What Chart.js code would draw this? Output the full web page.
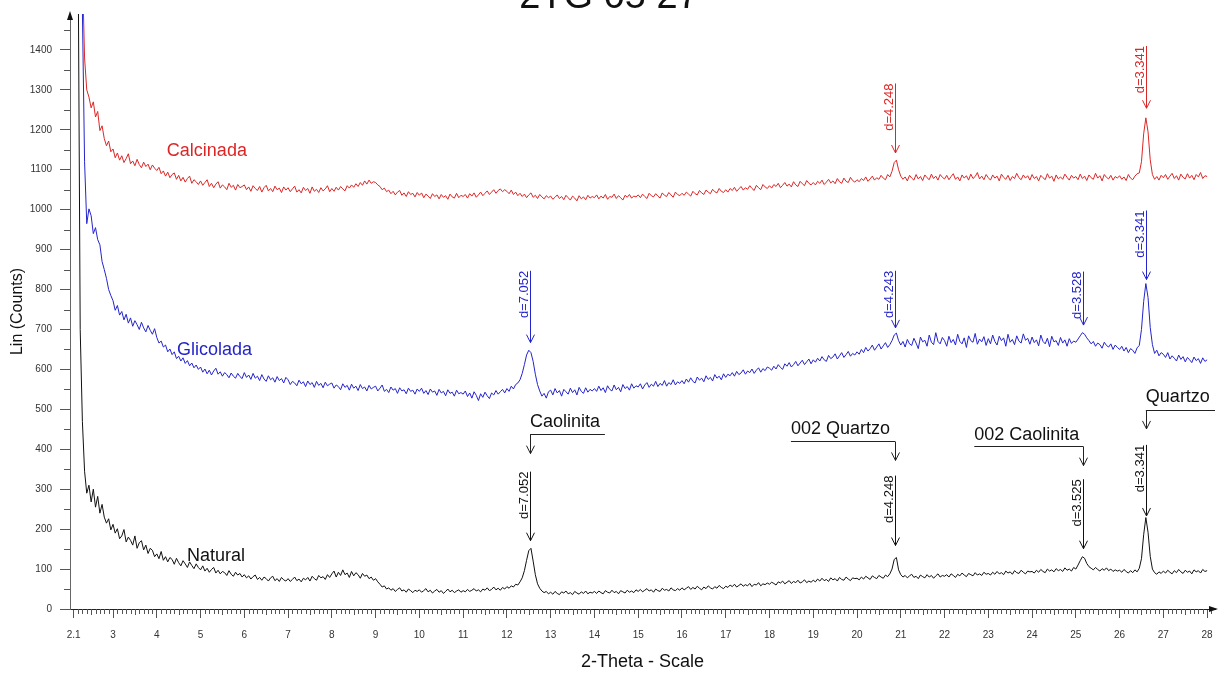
<!DOCTYPE html>
<html>
<head>
<meta charset="utf-8">
<script src="https://cdn.jsdelivr.net/npm/chart.js@4.4.1/dist/chart.umd.min.js"></script>
<style>
html, body { margin: 0; padding: 0; background: #fff; }
</style>
</head>
<body>
<canvas id="canvas" width="1227" height="675"></canvas>
<script>
let canvas = document.getElementById("canvas").getContext("2d")

const chartTitle = "2TG 05 27"

// 2-theta scan positions (degrees)
const theta = [
    2.20, 2.25, 2.30, 2.35, 2.40, 2.45, 2.50, 2.55, 2.60, 2.65, 2.70, 2.75, 2.80, 2.85, 2.90, 2.95,
    3.00, 3.05, 3.10, 3.15, 3.20, 3.25, 3.30, 3.35, 3.40, 3.45, 3.50, 3.55, 3.60, 3.65, 3.70, 3.75, 3.80, 3.85, 3.90, 3.95,
    4.00, 4.05, 4.10, 4.15, 4.20, 4.25, 4.30, 4.35, 4.40, 4.45, 4.50, 4.55, 4.60, 4.65, 4.70, 4.75, 4.80, 4.85, 4.90, 4.95,
    5.00, 5.05, 5.10, 5.15, 5.20, 5.25, 5.30, 5.35, 5.40, 5.45, 5.50, 5.55, 5.60, 5.65, 5.70, 5.75, 5.80, 5.85, 5.90, 5.95,
    6.00, 6.05, 6.10, 6.15, 6.20, 6.25, 6.30, 6.35, 6.40, 6.45, 6.50, 6.55, 6.60, 6.65, 6.70, 6.75, 6.80, 6.85, 6.90, 6.95,
    7.00, 7.05, 7.10, 7.15, 7.20, 7.25, 7.30, 7.35, 7.40, 7.45, 7.50, 7.55, 7.60, 7.65, 7.70, 7.75, 7.80, 7.85, 7.90, 7.95,
    8.00, 8.05, 8.10, 8.15, 8.20, 8.25, 8.30, 8.35, 8.40, 8.45, 8.50, 8.55, 8.60, 8.65, 8.70, 8.75, 8.80, 8.85, 8.90, 8.95,
    9.00, 9.05, 9.10, 9.15, 9.20, 9.25, 9.30, 9.35, 9.40, 9.45, 9.50, 9.55, 9.60, 9.65, 9.70, 9.75, 9.80, 9.85, 9.90, 9.95,
    10.00, 10.05, 10.10, 10.15, 10.20, 10.25, 10.30, 10.35, 10.40, 10.45, 10.50, 10.55, 10.60, 10.65, 10.70, 10.75, 10.80, 10.85, 10.90, 10.95,
    11.00, 11.05, 11.10, 11.15, 11.20, 11.25, 11.30, 11.35, 11.40, 11.45, 11.50, 11.55, 11.60, 11.65, 11.70, 11.75, 11.80, 11.85, 11.90, 11.95,
    12.00, 12.05, 12.10, 12.15, 12.20, 12.25, 12.30, 12.35, 12.40, 12.45, 12.50, 12.55, 12.60, 12.65, 12.70, 12.75, 12.80, 12.85, 12.90, 12.95,
    13.00, 13.05, 13.10, 13.15, 13.20, 13.25, 13.30, 13.35, 13.40, 13.45, 13.50, 13.55, 13.60, 13.65, 13.70, 13.75, 13.80, 13.85, 13.90, 13.95,
    14.00, 14.05, 14.10, 14.15, 14.20, 14.25, 14.30, 14.35, 14.40, 14.45, 14.50, 14.55, 14.60, 14.65, 14.70, 14.75, 14.80, 14.85, 14.90, 14.95,
    15.00, 15.05, 15.10, 15.15, 15.20, 15.25, 15.30, 15.35, 15.40, 15.45, 15.50, 15.55, 15.60, 15.65, 15.70, 15.75, 15.80, 15.85, 15.90, 15.95,
    16.00, 16.05, 16.10, 16.15, 16.20, 16.25, 16.30, 16.35, 16.40, 16.45, 16.50, 16.55, 16.60, 16.65, 16.70, 16.75, 16.80, 16.85, 16.90, 16.95,
    17.00, 17.05, 17.10, 17.15, 17.20, 17.25, 17.30, 17.35, 17.40, 17.45, 17.50, 17.55, 17.60, 17.65, 17.70, 17.75, 17.80, 17.85, 17.90, 17.95,
    18.00, 18.05, 18.10, 18.15, 18.20, 18.25, 18.30, 18.35, 18.40, 18.45, 18.50, 18.55, 18.60, 18.65, 18.70, 18.75, 18.80, 18.85, 18.90, 18.95,
    19.00, 19.05, 19.10, 19.15, 19.20, 19.25, 19.30, 19.35, 19.40, 19.45, 19.50, 19.55, 19.60, 19.65, 19.70, 19.75, 19.80, 19.85, 19.90, 19.95,
    20.00, 20.05, 20.10, 20.15, 20.20, 20.25, 20.30, 20.35, 20.40, 20.45, 20.50, 20.55, 20.60, 20.65, 20.70, 20.75, 20.80, 20.85, 20.90, 20.95,
    21.00, 21.05, 21.10, 21.15, 21.20, 21.25, 21.30, 21.35, 21.40, 21.45, 21.50, 21.55, 21.60, 21.65, 21.70, 21.75, 21.80, 21.85, 21.90, 21.95,
    22.00, 22.05, 22.10, 22.15, 22.20, 22.25, 22.30, 22.35, 22.40, 22.45, 22.50, 22.55, 22.60, 22.65, 22.70, 22.75, 22.80, 22.85, 22.90, 22.95,
    23.00, 23.05, 23.10, 23.15, 23.20, 23.25, 23.30, 23.35, 23.40, 23.45, 23.50, 23.55, 23.60, 23.65, 23.70, 23.75, 23.80, 23.85, 23.90, 23.95,
    24.00, 24.05, 24.10, 24.15, 24.20, 24.25, 24.30, 24.35, 24.40, 24.45, 24.50, 24.55, 24.60, 24.65, 24.70, 24.75, 24.80, 24.85, 24.90, 24.95,
    25.00, 25.05, 25.10, 25.15, 25.20, 25.25, 25.30, 25.35, 25.40, 25.45, 25.50, 25.55, 25.60, 25.65, 25.70, 25.75, 25.80, 25.85, 25.90, 25.95,
    26.00, 26.05, 26.10, 26.15, 26.20, 26.25, 26.30, 26.35, 26.40, 26.45, 26.50, 26.55, 26.60, 26.65, 26.70, 26.75, 26.80, 26.85, 26.90, 26.95,
    27.00, 27.05, 27.10, 27.15, 27.20, 27.25, 27.30, 27.35, 27.40, 27.45, 27.50, 27.55, 27.60, 27.65, 27.70, 27.75, 27.80, 27.85, 27.90, 27.95,
    28.00
]

const calcinada = [
    3000, 2300, 1600, 1380, 1300, 1282, 1255, 1270, 1232, 1246, 1198, 1210, 1178, 1160, 1172, 1145,
    1152, 1130, 1142, 1124, 1135, 1118, 1128, 1140, 1115, 1122, 1110, 1126, 1113, 1105, 1119, 1108, 1114, 1100, 1112, 1104,
    1098, 1106, 1090, 1097, 1084, 1094, 1080, 1088, 1092, 1076, 1086, 1072, 1081, 1069, 1078, 1084, 1066, 1075, 1070, 1063,
    1072, 1061, 1068, 1075, 1058, 1066, 1055, 1064, 1070, 1054, 1062, 1057, 1050, 1066, 1056, 1061, 1049, 1063, 1055, 1058,
    1062, 1050, 1057, 1046, 1060, 1053, 1048, 1058, 1044, 1055, 1061, 1047, 1053, 1045, 1059, 1050, 1054, 1043, 1057, 1049,
    1055, 1045, 1052, 1059, 1044, 1050, 1042, 1056, 1048, 1053, 1041, 1057, 1046, 1051, 1043, 1055, 1047, 1052, 1060, 1045,
    1053, 1046, 1056, 1049, 1058, 1052, 1047, 1060, 1054, 1062, 1056, 1065, 1058, 1068, 1061, 1072, 1064, 1074, 1066, 1070,
    1068, 1062, 1058, 1050, 1054, 1045, 1049, 1040, 1046, 1037, 1044, 1048, 1036, 1042, 1033, 1045, 1038, 1041, 1032, 1043,
    1036, 1042, 1030, 1039, 1034, 1028, 1040, 1033, 1037, 1027, 1038, 1031, 1035, 1026, 1039, 1032, 1029, 1041, 1030, 1036,
    1033, 1038, 1029, 1040, 1034, 1042, 1031, 1037, 1044, 1035, 1041, 1047, 1038, 1044, 1050, 1041, 1048, 1052, 1045, 1050,
    1046, 1040, 1049, 1038, 1044, 1035, 1041, 1033, 1039, 1030, 1037, 1042, 1031, 1036, 1028, 1038, 1032, 1027, 1035, 1030,
    1034, 1026, 1031, 1037, 1028, 1033, 1025, 1036, 1030, 1024, 1034, 1029, 1022, 1035, 1027, 1032, 1025, 1036, 1029, 1033,
    1030, 1037, 1027, 1034, 1029, 1038, 1026, 1033, 1031, 1039, 1028, 1035, 1030, 1024, 1036, 1031, 1038, 1029, 1034, 1032,
    1037, 1030, 1039, 1033, 1028, 1041, 1035, 1032, 1040, 1034, 1029, 1042, 1036, 1033, 1043, 1037, 1031, 1044, 1038, 1035,
    1041, 1036, 1044, 1039, 1034, 1046, 1040, 1037, 1048, 1042, 1038, 1049, 1044, 1040, 1051, 1045, 1042, 1053, 1046, 1043,
    1050, 1044, 1053, 1048, 1056, 1046, 1052, 1058, 1049, 1055, 1051, 1060, 1053, 1048, 1061, 1055, 1050, 1063, 1057, 1053,
    1060, 1054, 1063, 1058, 1066, 1055, 1061, 1068, 1059, 1064, 1057, 1070, 1062, 1058, 1071, 1065, 1060, 1073, 1066, 1062,
    1068, 1062, 1071, 1066, 1074, 1063, 1069, 1076, 1067, 1072, 1065, 1078, 1070, 1066, 1079, 1071, 1068, 1081, 1073, 1069,
    1075, 1070, 1078, 1073, 1082, 1071, 1077, 1084, 1074, 1080, 1076, 1086, 1079, 1075, 1088, 1082, 1096, 1118, 1124, 1100,
    1084, 1076, 1082, 1072, 1086, 1079, 1074, 1088, 1077, 1083, 1073, 1087, 1080, 1075, 1089, 1078, 1084, 1074, 1088, 1081,
    1077, 1086, 1075, 1083, 1090, 1076, 1082, 1072, 1087, 1079, 1085, 1074, 1089, 1078, 1083, 1093, 1077, 1084, 1075, 1088,
    1080, 1074, 1087, 1079, 1084, 1072, 1089, 1081, 1076, 1086, 1073, 1083, 1078, 1091, 1080, 1075, 1087, 1079, 1085, 1074,
    1088, 1078, 1083, 1072, 1086, 1080, 1075, 1090, 1079, 1084, 1071, 1087, 1077, 1082, 1076, 1089, 1081, 1074, 1086, 1079,
    1083, 1075, 1089, 1078, 1084, 1073, 1087, 1080, 1076, 1091, 1079, 1085, 1072, 1088, 1081, 1077, 1086, 1074, 1083, 1079,
    1085, 1076, 1082, 1073, 1088, 1079, 1075, 1084, 1090, 1092, 1120, 1190, 1230, 1195, 1125, 1088, 1076, 1083, 1074, 1086,
    1080, 1088, 1076, 1084, 1091, 1078, 1085, 1074, 1089, 1081, 1077, 1090, 1079, 1086, 1075, 1088, 1082, 1093, 1078, 1085,
    1083
]

const glicolada = [
    3000, 2200, 1500, 1120, 965, 1002, 985, 940, 955, 925, 912, 870, 850, 828, 800, 785,
    772, 748, 760, 736, 745, 724, 738, 716, 729, 708, 722, 712, 700, 718, 704, 694, 710, 698, 688, 702,
    680, 666, 671, 656, 661, 644, 651, 637, 644, 627, 633, 621, 629, 615, 622, 609, 616, 604, 611, 600,
    606, 593, 601, 589, 598, 586, 596, 603, 588, 594, 583, 592, 587, 579, 591, 583, 578, 590, 582, 577,
    592, 580, 586, 575, 590, 578, 583, 572, 587, 576, 570, 584, 574, 579, 568, 582, 572, 577, 566, 580,
    574, 562, 570, 566, 559, 573, 564, 569, 557, 571, 562, 567, 555, 570, 560, 565, 554, 568, 559, 563,
    566, 553, 561, 557, 549, 564, 555, 560, 548, 563, 553, 558, 547, 562, 552, 556, 546, 560, 551, 555,
    558, 546, 553, 561, 545, 550, 542, 556, 548, 552, 540, 554, 546, 549, 539, 553, 545, 548, 538, 551,
    545, 553, 540, 547, 537, 551, 543, 546, 535, 550, 541, 545, 534, 549, 540, 543, 533, 548, 539, 542,
    538, 546, 532, 541, 528, 544, 535, 522, 539, 530, 543, 534, 527, 541, 536, 547, 538, 544, 550, 541,
    552, 545, 558, 551, 562, 566, 574, 590, 612, 636, 648, 642, 620, 588, 562, 546, 533, 540, 528, 544,
    548, 536, 552, 541, 547, 533, 550, 544, 538, 553, 542, 549, 536, 555, 545, 540, 554, 543, 550, 546,
    552, 545, 558, 547, 554, 542, 559, 550, 546, 561, 549, 555, 544, 562, 552, 557, 548, 564, 553, 559,
    556, 564, 551, 561, 567, 555, 563, 558, 570, 557, 565, 560, 572, 558, 567, 562, 574, 561, 569, 565,
    572, 564, 576, 568, 579, 570, 566, 581, 573, 578, 569, 584, 575, 580, 571, 587, 578, 583, 574, 589,
    580, 588, 584, 592, 583, 595, 587, 591, 599, 588, 596, 592, 601, 590, 598, 604, 593, 602, 597, 606,
    603, 598, 608, 601, 612, 605, 600, 614, 608, 617, 606, 612, 620, 609, 616, 623, 612, 619, 626, 614,
    624, 618, 628, 621, 632, 624, 620, 635, 627, 631, 639, 626, 634, 642, 630, 637, 645, 633, 640, 636,
    644, 638, 650, 642, 655, 646, 652, 661, 648, 656, 664, 651, 659, 667, 655, 662, 672, 686, 691, 672,
    661, 670, 656, 675, 664, 660, 678, 666, 652, 681, 669, 673, 658, 686, 668, 662, 692, 670, 664, 680,
    672, 658, 683, 667, 675, 661, 688, 670, 664, 679, 655, 684, 672, 668, 690, 663, 676, 669, 682, 660,
    677, 664, 686, 670, 661, 683, 672, 679, 658, 688, 668, 675, 662, 684, 671, 666, 689, 673, 678, 663,
    681, 667, 674, 659, 686, 670, 664, 678, 657, 683, 669, 672, 660, 680, 666, 674, 658, 677, 665, 671,
    668, 676, 684, 692, 688, 679, 672, 664, 670, 658, 666, 662, 653, 668, 660, 656, 664, 650, 661, 655,
    650, 658, 646, 655, 642, 652, 648, 640, 654, 660, 700, 770, 815, 780, 705, 662, 640, 648, 634, 642,
    638, 630, 642, 626, 634, 628, 621, 636, 625, 632, 619, 630, 624, 617, 631, 622, 627, 615, 629, 620,
    624
]

const natural = [
    1700, 700, 470, 345, 290, 310, 268, 300, 255, 282, 240, 262, 230, 215, 226, 198,
    212, 190, 201, 176, 183, 199, 168, 180, 172, 160, 183, 152, 166, 171, 148, 160, 139, 152, 147, 131,
    138, 126, 144, 122, 131, 118, 129, 124, 112, 127, 116, 108, 121, 113, 104, 118, 109, 101, 113, 104,
    98, 108, 95, 102, 92, 99, 104, 90, 97, 88, 94, 91, 84, 96, 87, 82, 92, 85, 89, 80,
    86, 78, 83, 75, 81, 85, 74, 79, 72, 80, 76, 70, 78, 82, 71, 76, 69, 79, 73, 70,
    76, 69, 74, 80, 71, 75, 68, 77, 73, 79, 70, 82, 76, 72, 84, 78, 81, 74, 86, 79,
    88, 95, 80, 92, 84, 98, 86, 90, 79, 94, 83, 91, 86, 77, 89, 82, 85, 76, 80, 72,
    76, 68, 62, 55, 58, 50, 53, 47, 51, 44, 49, 53, 45, 48, 42, 50, 46, 41, 47, 44,
    48, 42, 46, 51, 43, 47, 40, 45, 49, 42, 46, 39, 44, 50, 43, 47, 41, 45, 48, 42,
    46, 43, 49, 44, 47, 51, 45, 48, 43, 50, 47, 53, 46, 49, 55, 48, 52, 47, 54, 50,
    56, 52, 58, 55, 62, 60, 68, 78, 96, 122, 146, 152, 120, 86, 63, 52, 45, 41, 44, 38,
    42, 37, 44, 39, 36, 43, 40, 45, 38, 41, 36, 44, 40, 37, 43, 39, 45, 38, 42, 40,
    44, 39, 45, 41, 38, 46, 42, 40, 47, 41, 44, 38, 46, 43, 40, 47, 42, 45, 41, 48,
    44, 49, 43, 47, 51, 45, 48, 42, 50, 46, 44, 52, 47, 49, 45, 53, 48, 46, 51, 47,
    53, 48, 52, 56, 49, 54, 50, 57, 52, 48, 55, 51, 58, 53, 50, 56, 52, 59, 54, 51,
    57, 54, 60, 56, 62, 55, 59, 63, 57, 61, 58, 64, 56, 62, 60, 66, 58, 63, 61, 65,
    62, 67, 64, 60, 68, 65, 70, 63, 67, 71, 64, 69, 66, 72, 65, 68, 73, 66, 70, 67,
    72, 68, 75, 70, 77, 71, 74, 69, 78, 73, 76, 70, 79, 74, 72, 80, 75, 71, 78, 76,
    77, 73, 80, 75, 82, 78, 74, 83, 79, 76, 84, 80, 77, 85, 81, 88, 100, 124, 129, 98,
    86, 80, 84, 78, 83, 87, 79, 82, 76, 85, 81, 78, 86, 80, 84, 77, 83, 88, 80, 84,
    82, 86, 80, 88, 84, 79, 87, 83, 90, 85, 81, 89, 86, 83, 91, 85, 88, 84, 92, 87,
    89, 85, 92, 87, 94, 88, 91, 86, 95, 90, 93, 87, 96, 91, 89, 97, 92, 88, 95, 93,
    94, 90, 97, 92, 99, 94, 91, 100, 95, 98, 93, 101, 96, 99, 94, 103, 97, 100, 95, 104,
    100, 110, 121, 131, 127, 114, 106, 102, 98, 104, 99, 95, 101, 97, 103, 96, 100, 94, 98, 95,
    97, 92, 99, 94, 90, 96, 91, 98, 93, 102, 126, 186, 229, 192, 132, 100, 91, 87, 93, 89,
    95, 90, 97, 92, 88, 96, 91, 99, 93, 89, 97, 92, 95, 88, 98, 93, 96, 90, 99, 94,
    96
]

const xTickValues = [2.1, 3, 4, 5, 6, 7, 8, 9, 10, 11, 12, 13, 14, 15, 16, 17, 18, 19, 20, 21, 22, 23, 24, 25, 26, 27, 28]
const yTickValues = [0, 100, 200, 300, 400, 500, 600, 700, 800, 900, 1000, 1100, 1200, 1300, 1400]

const RED = "#dc2626"
const BLUE = "#2424cc"
const BLACK = "#111111"
const FONT = '"Liberation Sans", Arial, sans-serif'

// series names written next to each trace
const seriesLabels = [
    { text: "Calcinada", x: 4.23, y: 1135, color: RED },
    { text: "Glicolada", x: 4.46, y: 637, color: BLUE },
    { text: "Natural", x: 4.69, y: 121, color: BLACK },
]

// d-spacing arrows above peaks
const peakMarks = [
    { text: "d=4.248", x: 20.87, top: 1316, tip: 1142, color: RED },
    { text: "d=3.341", x: 26.6, top: 1410, tip: 1254, color: RED },
    { text: "d=7.052", x: 12.53, top: 847, tip: 667, color: BLUE },
    { text: "d=4.243", x: 20.87, top: 847, tip: 704, color: BLUE },
    { text: "d=3.528", x: 25.17, top: 845, tip: 711, color: BLUE },
    { text: "d=3.341", x: 26.6, top: 998, tip: 825, color: BLUE },
    { text: "d=7.052", x: 12.53, top: 344, tip: 171, color: BLACK },
    { text: "d=4.248", x: 20.87, top: 334, tip: 159, color: BLACK },
    { text: "d=3.525", x: 25.17, top: 325, tip: 151, color: BLACK },
    { text: "d=3.341", x: 26.6, top: 411, tip: 233, color: BLACK },
]

// mineral phase labels with bent arrows
const phaseMarks = [
    { text: "Caolinita", from: 12.53, to: 14.24, at: 12.53, base: 456, line: 439, tip: 389 },
    { text: "002 Quartzo", from: 18.49, to: 20.87, at: 20.87, base: 439, line: 421, tip: 372 },
    { text: "002 Caolinita", from: 22.68, to: 25.17, at: 25.17, base: 424, line: 409, tip: 359 },
    { text: "Quartzo", from: 26.6, to: 28.18, at: 26.6, base: 518, line: 498, tip: 451 },
]

function pts(values) {
    return theta.map((t, i) => ({ x: t, y: values[i] }))
}

function chevron(ctx, x, y) {
    ctx.moveTo(x - 4, y - 8)
    ctx.lineTo(x, y)
    ctx.lineTo(x + 4, y - 8)
}

const decor = {
    id: "decor",
    afterDraw(chart) {
        const ctx = chart.ctx
        const xs = chart.scales.x
        const ys = chart.scales.y
        const a = chart.chartArea
        ctx.save()

        // minor ticks
        ctx.strokeStyle = "#555"
        ctx.lineWidth = 1
        ctx.beginPath()
        for (let k = 22; k <= 281; k++) {
            if (k % 10 === 0) continue
            const px = Math.round(xs.getPixelForValue(k / 10)) + 0.5
            const len = k % 5 === 0 ? 6 : 5
            ctx.moveTo(px, a.bottom)
            ctx.lineTo(px, a.bottom + len)
        }
        for (let v = 50; v < 1490; v += 100) {
            const py = Math.round(ys.getPixelForValue(v)) + 0.5
            ctx.moveTo(a.left, py)
            ctx.lineTo(a.left - 6, py)
        }
        ctx.stroke()

        // axis arrow heads
        ctx.fillStyle = "#111"
        ctx.beginPath()
        ctx.moveTo(a.left, a.top - 3)
        ctx.lineTo(a.left - 3, a.top + 6)
        ctx.lineTo(a.left + 3, a.top + 6)
        ctx.closePath()
        ctx.moveTo(a.right + 3, a.bottom)
        ctx.lineTo(a.right - 6, a.bottom - 3)
        ctx.lineTo(a.right - 6, a.bottom + 3)
        ctx.closePath()
        ctx.fill()

        // title, mostly cut off by the top edge
        ctx.fillStyle = "#111"
        ctx.font = "38px " + FONT
        ctx.textAlign = "center"
        ctx.textBaseline = "alphabetic"
        ctx.fillText(chartTitle, 609, 8)

        // series names
        ctx.font = "18px " + FONT
        ctx.textAlign = "left"
        seriesLabels.forEach(l => {
            ctx.fillStyle = l.color
            ctx.fillText(l.text, xs.getPixelForValue(l.x), ys.getPixelForValue(l.y))
        })

        // d-spacing arrows
        peakMarks.forEach(m => {
            const x = Math.round(xs.getPixelForValue(m.x)) + 0.5
            const top = ys.getPixelForValue(m.top)
            const tip = ys.getPixelForValue(m.tip)
            ctx.strokeStyle = m.color
            ctx.fillStyle = m.color
            ctx.beginPath()
            ctx.moveTo(x, top)
            ctx.lineTo(x, tip)
            chevron(ctx, x, tip)
            ctx.stroke()
            ctx.save()
            ctx.translate(x - 3, top)
            ctx.rotate(-Math.PI / 2)
            ctx.font = "13px " + FONT
            ctx.textAlign = "right"
            ctx.textBaseline = "alphabetic"
            ctx.fillText(m.text, 0, 0)
            ctx.restore()
        })

        // phase labels
        ctx.strokeStyle = "#222"
        ctx.fillStyle = "#111"
        ctx.font = "18px " + FONT
        ctx.textAlign = "left"
        phaseMarks.forEach(p => {
            const x1 = xs.getPixelForValue(p.from)
            const x2 = xs.getPixelForValue(p.to)
            const ax = Math.round(xs.getPixelForValue(p.at)) + 0.5
            const ly = Math.round(ys.getPixelForValue(p.line)) + 0.5
            const ty = ys.getPixelForValue(p.tip)
            ctx.fillText(p.text, x1, ys.getPixelForValue(p.base))
            ctx.beginPath()
            ctx.moveTo(x1, ly)
            ctx.lineTo(x2, ly)
            ctx.moveTo(ax, ly)
            ctx.lineTo(ax, ty)
            chevron(ctx, ax, ty)
            ctx.stroke()
        })
        ctx.restore()
    }
}

const config = {
    type: "line",
    data: {
        datasets: [
            { label: "Calcinada", data: pts(calcinada), borderColor: RED },
            { label: "Glicolada", data: pts(glicolada), borderColor: BLUE },
            { label: "Natural", data: pts(natural), borderColor: BLACK },
        ]
    },
    options: {
        responsive: false,
        animation: false,
        devicePixelRatio: 1,
        layout: { padding: { left: 0, right: 12, top: 8, bottom: 0 } },
        elements: {
            line: { borderWidth: 1, tension: 0 },
            point: { radius: 0 }
        },
        plugins: {
            legend: { display: false },
            tooltip: { enabled: false },
        },
        scales: {
            x: {
                type: "linear",
                min: 2.017,
                max: 28.18,
                afterBuildTicks: s => { s.ticks = xTickValues.map(v => ({ value: v })) },
                afterFit: s => { s.height = 66 },
                ticks: {
                    autoSkip: false,
                    maxRotation: 0,
                    padding: 11,
                    color: "#333",
                    font: { family: FONT, size: 10 },
                    callback: v => String(v)
                },
                grid: { drawOnChartArea: false, tickLength: 9, color: "#555" },
                border: { color: "#222" },
                title: {
                    display: true,
                    text: "2-Theta - Scale",
                    color: "#111",
                    font: { family: FONT, size: 18 },
                    padding: { top: 0, bottom: 2 }
                }
            },
            y: {
                min: 0,
                max: 1490,
                afterBuildTicks: s => { s.ticks = yTickValues.map(v => ({ value: v })) },
                afterFit: s => { s.width = 70 },
                ticks: {
                    padding: 8,
                    color: "#333",
                    font: { family: FONT, size: 10 },
                    callback: v => String(v)
                },
                grid: { drawOnChartArea: false, tickLength: 10, color: "#555" },
                border: { color: "#666" },
                title: {
                    display: true,
                    text: "Lin (Counts)",
                    color: "#111",
                    font: { family: FONT, size: 16 },
                    padding: { top: 8, bottom: 0 }
                }
            }
        }
    },
    plugins: [decor]
}

let chart = new Chart(canvas, config)
</script>
</body>
</html>
